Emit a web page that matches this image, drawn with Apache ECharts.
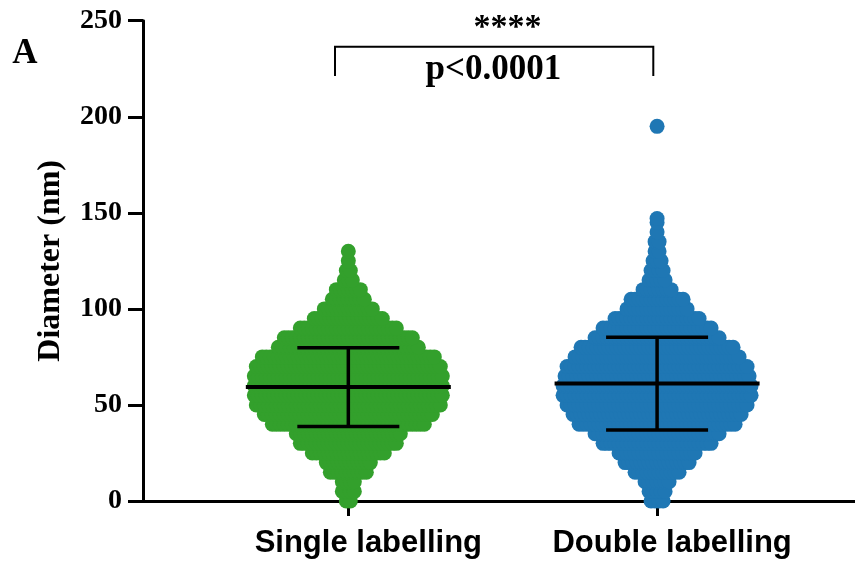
<!DOCTYPE html>
<html><head><meta charset="utf-8">
<script src="https://cdn.jsdelivr.net/npm/echarts@6/dist/echarts.min.js"></script>
<style>html,body{margin:0;padding:0;background:#fff}#c{width:855px;height:564px}</style>
</head><body><div id="c"></div>
<script>
// ---- data ----
const categories = ['Single labelling', 'Double labelling'];
const colors = ['#33a02c', '#1f77b4'];
const diameterBins = [0,5,10,15,20,25,30,35,40,45,50,55,60,65,70,75,80,85,90,95,100,105,110,115,120,125,130,135,140,145];
// approximate number of points per 5 nm bin (read from swarm width)
const singleCounts = [2,4,4,10,12,19,25,27,39,43,47,48,48,48,47,44,36,33,25,18,13,9,7,3,2,1,1,0,0,0];
const doubleCounts = [4,5,7,12,17,20,28,32,40,43,46,48,48,47,46,42,39,32,28,22,16,14,8,5,4,3,2,2,1,1];
const doubleOutliers = [147, 195];
const means = [59.3, 61.1];
const sds = [20.5, 24.1];
const yTicks = [0, 50, 100, 150, 200, 250];
const significance = '****';
const pText = 'p<0.0001';

// ---- build ----
const chart = echarts.init(document.getElementById('c'), null, {renderer: 'canvas'});
const countsByCat = [singleCounts, doubleCounts];
const swarmData = [];
countsByCat.forEach((arr, ci) => {
  arr.forEach((n, bi) => { if (n > 0) swarmData.push([ci + 1, diameterBins[bi], n, ci]); });
});
const outlierData = doubleOutliers.map(v => [2, v]);
const errData = means.map((m, i) => [i + 1, m, sds[i]]);

const R = 7.5, STEP = 4;
function renderSwarm(params, api) {
  const x = api.value(0), v = api.value(1), n = api.value(2), ci = api.value(3);
  const c = api.coord([x, v]);
  const children = [];
  for (let i = 0; i < n; i++) {
    children.push({type: 'circle', shape: {cx: c[0] + (i - (n - 1) / 2) * STEP, cy: c[1], r: R},
      style: {fill: colors[ci]}, silent: true});
  }
  return {type: 'group', children};
}
function renderErr(params, api) {
  const x = api.value(0), m = api.value(1), s = api.value(2);
  const cm = api.coord([x, m]), ct = api.coord([x, m + s]), cb = api.coord([x, m - s]);
  const st = {stroke: '#000', lineWidth: 3.5};
  return {type: 'group', children: [
    {type: 'line', shape: {x1: cm[0] - 102.5, y1: cm[1], x2: cm[0] + 102.5, y2: cm[1]}, style: {stroke: '#000', lineWidth: 4}},
    {type: 'line', shape: {x1: ct[0], y1: ct[1], x2: cb[0], y2: cb[1]}, style: st},
    {type: 'line', shape: {x1: ct[0] - 51, y1: ct[1], x2: ct[0] + 51, y2: ct[1]}, style: st},
    {type: 'line', shape: {x1: cb[0] - 51, y1: cb[1], x2: cb[0] + 51, y2: cb[1]}, style: st}
  ]};
}

const serif = 'Liberation Serif, Times New Roman, serif';
const sans = 'Liberation Sans, Arial, sans-serif';
chart.setOption({
  animation: false,
  grid: {left: 143, right: 0, top: 20.7, bottom: 63, containLabel: false},
  xAxis: {
    type: 'value', min: 0.335, max: 2.641,
    splitLine: {show: false},
    axisLine: {show: true, lineStyle: {color: '#000', width: 3}},
    axisTick: {show: true, customValues: [1, 2], length: 15, lineStyle: {color: '#000', width: 3}},
    axisLabel: {
      customValues: [1, 2], margin: 27,
      formatter: v => (Math.round(v) === 1 ? '{s|' : '{d|') + categories[Math.round(v) - 1] + '}',
      rich: {
        s: {fontFamily: sans, fontWeight: 'bold', fontSize: 31, color: '#000', padding: [0, 0, 0, 40]},
        d: {fontFamily: sans, fontWeight: 'bold', fontSize: 31, color: '#000', padding: [0, 0, 0, 30]}
      }
    }
  },
  yAxis: {
    type: 'value', min: yTicks[0], max: yTicks[yTicks.length - 1], interval: 50,
    splitLine: {show: false},
    axisLine: {show: true, lineStyle: {color: '#000', width: 3}},
    axisTick: {show: true, length: 15, lineStyle: {color: '#000', width: 3}},
    axisLabel: {margin: 21, fontFamily: serif, fontWeight: 'bold', fontSize: 28, color: '#000'},
    name: 'Diameter (nm)', nameLocation: 'middle', nameGap: 76,
    nameTextStyle: {fontFamily: serif, fontWeight: 'bold', fontSize: 32, color: '#000'}
  },
  series: [
    {type: 'custom', renderItem: renderSwarm, data: swarmData, clip: false, z: 3, silent: true},
    {type: 'scatter', data: outlierData, symbol: 'circle', symbolSize: 15, itemStyle: {color: colors[1], opacity: 1}, clip: false, z: 3, silent: true},
    {type: 'custom', renderItem: renderErr, data: errData, clip: false, z: 5, silent: true}
  ],
  graphic: [
    {type: 'text', x: 25, y: 54, style: {text: 'A', font: 'bold 35px ' + serif, fill: '#000', align: 'center', verticalAlign: 'middle'}},
    {type: 'polyline', shape: {points: [[335, 76], [335, 46.7], [653.3, 46.7], [653.3, 76]]}, style: {stroke: '#000', lineWidth: 2, fill: null}},
    {type: 'text', x: 507.5, y: 28.5, style: {text: significance, font: 'bold 34px ' + serif, fill: '#000', align: 'center', verticalAlign: 'middle'}},
    {type: 'text', x: 493.3, y: 70, style: {text: pText, font: 'bold 35px ' + serif, fill: '#000', align: 'center', verticalAlign: 'middle'}}
  ]
});
</script>
</body></html>
